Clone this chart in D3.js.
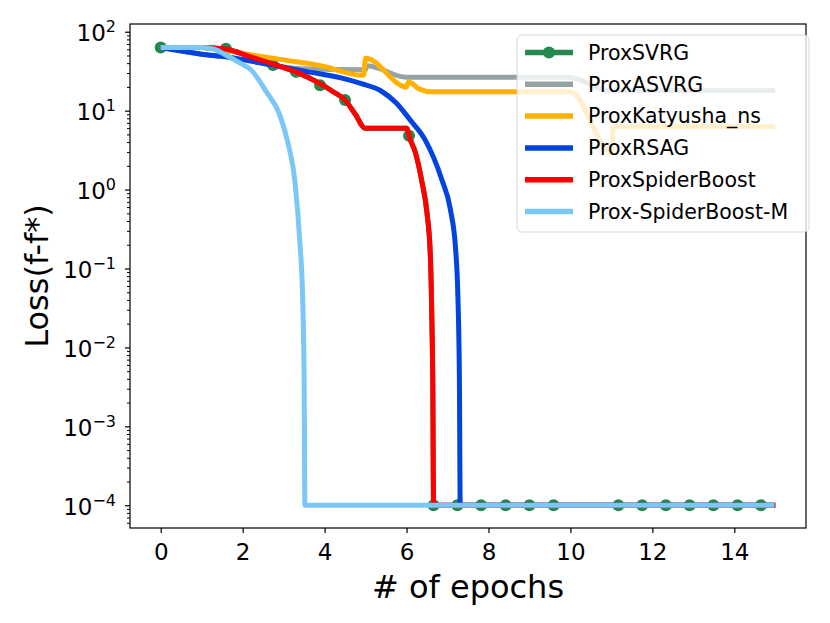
<!DOCTYPE html>
<html>
<head>
<meta charset="utf-8">
<script src="https://cdn.jsdelivr.net/npm/d3@7"></script>
<style>
body { margin: 0; background: #fff; }
text { font-family: 'DejaVu Sans', sans-serif; }
</style>
</head>
<body>
<div id="chart"></div>
<script>
// values: epochs on x, loss f-f* on y
const seriesNames = ['ProxSVRG', 'ProxASVRG', 'ProxKatyusha_ns', 'ProxRSAG', 'ProxSpiderBoost', 'Prox-SpiderBoost-M']

const svrgEpoch = [0, 1.0, 1.6, 2.2, 2.74, 3.3, 3.89, 4.2, 4.5, 4.75, 4.99, 6.01, 6.06, 6.22, 6.37, 6.5, 6.58, 6.62, 6.64, 6.66, 15]
const svrgLoss = [63, 63, 60, 48, 39, 31, 22, 17.5, 13.6, 9, 6.0, 6.0, 4.8, 2.9, 1.3, 0.5, 0.15, 0.02, 0.004, 1e-4, 1e-4]
const svrgMarkEpoch = [0, 1.59, 2.74, 3.30, 3.89, 4.50, 6.06, 6.66, 7.24, 7.82, 8.42, 9.0, 9.59, 11.17, 11.75, 12.33, 12.91, 13.49, 14.08, 14.65]
const svrgMarkLoss = [63, 61, 38, 31, 21, 13.6, 4.8, 1e-4, 1e-4, 1e-4, 1e-4, 1e-4, 1e-4, 1e-4, 1e-4, 1e-4, 1e-4, 1e-4, 1e-4, 1e-4]

const asvrgEpoch = [0, 1.0, 1.6, 2.7, 3.4, 5.0, 5.03, 6.0, 9.95, 10.95, 15]
const asvrgLoss = [63, 52, 48, 38, 34, 33, 37, 26.5, 26.5, 18, 18]

const katEpoch = [0, 1.0, 2.0, 3.0, 3.9, 4.95, 5.0, 6.0, 6.05, 6.3, 6.6, 10.0, 11.0, 11.05, 15]
const katLoss = [63, 63, 53, 44, 37, 28, 46, 20, 23, 19, 17.3, 17.3, 3.0, 6.3, 6.3]

const rsagEpoch = [0, 1.0, 1.6, 2.7, 3.6, 4.4, 4.9, 5.36, 5.75, 6.09, 6.45, 6.86, 7.07, 7.2, 7.25, 7.29, 7.31, 15]
const rsagLoss = [63, 52, 48, 38, 31, 26, 22, 18, 12.5, 7.6, 4.3, 1.34, 0.56, 0.17, 0.05, 0.004, 1e-4, 1e-4]

const spiderEpoch = [0, 1.0, 1.6, 2.2, 2.74, 3.3, 3.89, 4.2, 4.5, 4.75, 4.99, 6.01, 6.06, 6.22, 6.37, 6.5, 6.58, 6.62, 6.64, 6.66, 15]
const spiderLoss = [63, 63, 60, 48, 39, 31, 22, 17.5, 13.6, 9, 6.0, 6.0, 4.8, 2.9, 1.3, 0.5, 0.15, 0.02, 0.004, 1e-4, 1e-4]

const spiderMEpoch = [0, 1.0, 1.3, 1.61, 1.94, 2.2, 2.59, 2.9, 3.1, 3.28, 3.4, 3.46, 3.5, 3.52, 14.98]
const spiderMLoss = [63, 63, 60, 50, 40, 33, 17, 9, 4, 1.2, 0.2, 0.05, 0.004, 1e-4, 1e-4]

const xTicks = [0, 2, 4, 6, 8, 10, 12, 14]
const yTicks = [-4, -3, -2, -1, 0, 1, 2]

const colors = ['#23894f', '#95a3a6', '#ffb000', '#0343df', '#ff0000', '#7bc8f6']

let width = 830, height = 623
let plotLeft = 130, plotRight = 806, plotTop = 24, plotBottom = 528

let svg = d3.select('#chart')
.append('svg')
.attr('width', width)
.attr('height', height)

let x = d3.scaleLinear()
.domain([-0.75, 15.75])
.range([plotLeft, plotRight])

let y = d3.scaleLog()
.domain([Math.pow(10, -4.288), Math.pow(10, 2.098)])
.range([plotBottom, plotTop])

svg.append('clipPath')
.attr('id', 'plot-clip')
.append('rect')
.attr('x', plotLeft).attr('y', plotTop)
.attr('width', plotRight - plotLeft).attr('height', plotBottom - plotTop)

let zip = (xs, ys) => xs.map((v, i) => [v, ys[i]])

let series = [
  zip(svrgEpoch, svrgLoss),
  zip(asvrgEpoch, asvrgLoss),
  zip(katEpoch, katLoss),
  zip(rsagEpoch, rsagLoss),
  zip(spiderEpoch, spiderLoss),
  zip(spiderMEpoch, spiderMLoss)
]

let line = d3.line()
.x(d => x(d[0]))
.y(d => y(d[1]))
.curve(d3.curveMonotoneX)

let plot = svg.append('g')
.attr('clip-path', 'url(#plot-clip)')

series.forEach((s, i) => {
  plot.append('path')
  .datum(s)
  .attr('d', line)
  .attr('fill', 'none')
  .attr('stroke', colors[i])
  .attr('stroke-width', 5)
  .attr('stroke-linejoin', 'round')
  .attr('stroke-linecap', 'butt')

  // markers of ProxSVRG sit right above its own line
  if (i == 0) {
    plot.selectAll('.svrg-mark')
    .data(zip(svrgMarkEpoch, svrgMarkLoss))
    .join('circle')
    .attr('class', 'svrg-mark')
    .attr('cx', d => x(d[0]))
    .attr('cy', d => y(d[1]))
    .attr('r', 6)
    .attr('fill', colors[0])
  }
})

// axes
let xAxis = svg.append('g')
.attr('transform', `translate(0,${plotBottom})`)
.call(d3.axisBottom(x).tickValues(xTicks).tickSize(5).tickPadding(11).tickFormat(d3.format('d')))

xAxis.select('.domain').remove()
xAxis.selectAll('text').style('font-size', '23px').attr('fill', '#000')
xAxis.selectAll('line').attr('stroke-width', 1.2)

let minorTicks = []
for (let e = -5; e <= 2; e++) {
  for (let m = 2; m <= 9; m++) {
    let v = m * Math.pow(10, e)
    if (v > y.domain()[0] && v < y.domain()[1]) minorTicks.push(v)
  }
}

let yMinor = svg.append('g')
.attr('transform', `translate(${plotLeft},0)`)
.call(d3.axisLeft(y).tickValues(minorTicks).tickSize(3).tickFormat(''))
yMinor.select('.domain').remove()
yMinor.selectAll('line').attr('stroke-width', 1)

let yAxis = svg.append('g')
.attr('transform', `translate(${plotLeft},0)`)
.call(d3.axisLeft(y).tickValues(yTicks.map(e => Math.pow(10, e))).tickSize(5).tickPadding(9).tickFormat(''))
yAxis.select('.domain').remove()
yAxis.selectAll('line').attr('stroke-width', 1.2)

yAxis.selectAll('.tick text')
.attr('dy', '0.38em')
.style('font-size', '23px')
.attr('fill', '#000')
.each(function(d) {
  let e = Math.round(Math.log10(d))
  let t = d3.select(this)
  t.text('10')
  t.append('tspan')
  .attr('dy', -9)
  .style('font-size', '16px')
  .text(e < 0 ? '\u2212' + (-e) : e)
})

// frame
svg.append('rect')
.attr('x', plotLeft).attr('y', plotTop)
.attr('width', plotRight - plotLeft).attr('height', plotBottom - plotTop)
.attr('fill', 'none')
.attr('stroke', '#000')
.attr('stroke-width', 1.2)

svg.append('text')
.attr('x', (plotLeft + plotRight) / 2)
.attr('y', 598)
.attr('text-anchor', 'middle')
.style('font-size', '32px')
.text('# of epochs')

svg.append('text')
.attr('transform', `translate(48,${(plotTop + plotBottom) / 2}) rotate(-90)`)
.attr('text-anchor', 'middle')
.style('font-size', '32px')
.text('Loss(f-f*)')

// legend
let legend = svg.append('g')
.attr('transform', 'translate(517,35)')

legend.append('rect')
.attr('width', 292)
.attr('height', 197)
.attr('rx', 5)
.attr('fill', '#fff')
.attr('fill-opacity', 0.8)
.attr('stroke', '#d0d0d0')
.attr('stroke-opacity', 0.8)

let rows = legend.selectAll('.legend-row')
.data(seriesNames)
.join('g')
.attr('class', 'legend-row')
.attr('transform', (d, i) => `translate(0,${17.5 + i * 31.8})`)

rows.append('line')
.attr('x1', 8).attr('x2', 56)
.attr('stroke', (d, i) => colors[i])
.attr('stroke-width', 5.5)

rows.filter((d, i) => i == 0)
.append('circle')
.attr('cx', 32)
.attr('r', 6)
.attr('fill', colors[0])

rows.append('text')
.attr('x', 71)
.attr('dy', '0.36em')
.style('font-size', '20.5px')
.text(d => d)
</script>
</body>
</html>
